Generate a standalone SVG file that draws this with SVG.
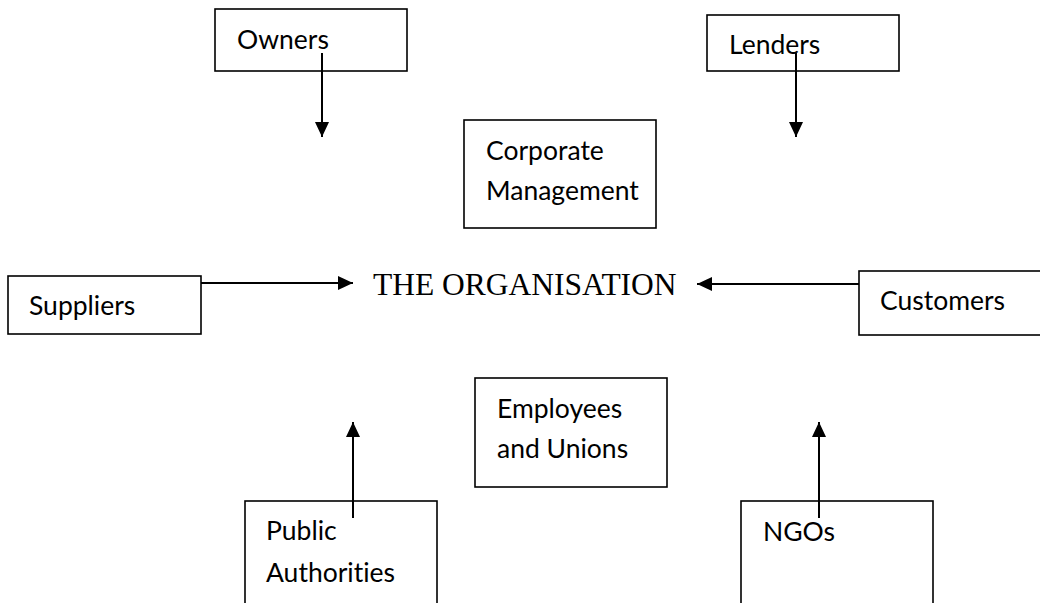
<svg xmlns="http://www.w3.org/2000/svg" width="1040" height="603" viewBox="0 0 1040 603">
<style>
.box{fill:#fff;stroke:#000;stroke-width:1.6}
.lbl{font-family:Lato,"Liberation Sans",sans-serif;font-size:26.5px;fill:#000;font-variant-ligatures:none;font-feature-settings:"liga" 0}
.title{font-family:"Liberation Serif","Times New Roman",serif;font-size:31.5px;fill:#000}
.conn{stroke:#000;stroke-width:2;fill:none;marker-end:url(#ah)}
</style>
<defs>
<marker id="ah" markerUnits="userSpaceOnUse" markerWidth="15" markerHeight="14" refX="15" refY="7" orient="auto">
<path d="M0,0 L15,7 L0,14 Z" fill="#000"/>
</marker>
</defs>
<rect width="1040" height="603" fill="#fff"/>
<g id="owners"><rect class="box" x="215" y="9" width="192" height="62"/><text class="lbl" x="237" y="49">Owners</text></g>
<g id="lenders"><rect class="box" x="707" y="15" width="192" height="56"/><text class="lbl" x="729" y="54">Lenders</text></g>
<g id="corporate"><rect class="box" x="464" y="120" width="192" height="108"/><text class="lbl" x="486" y="160">Corporate</text><text class="lbl" x="486" y="200">Management</text></g>
<g id="suppliers"><rect class="box" x="8" y="276" width="193" height="58"/><text class="lbl" x="29" y="315">Suppliers</text></g>
<g id="organisation"><text class="title" x="373" y="295">THE ORGANISATION</text></g>
<g id="customers"><rect class="box" x="859" y="271" width="190" height="64"/><text class="lbl" x="880" y="310">Customers</text></g>
<g id="employees"><rect class="box" x="475" y="378" width="192" height="109"/><text class="lbl" x="497" y="418">Employees</text><text class="lbl" x="497" y="458">and Unions</text></g>
<g id="public"><rect class="box" x="245" y="501" width="192" height="110"/><text class="lbl" x="266" y="540">Public</text><text class="lbl" x="266" y="582">Authorities</text></g>
<g id="ngos"><rect class="box" x="741" y="501" width="192" height="110"/><text class="lbl" x="763" y="541">NGOs</text></g>
<g id="connectors">
<line class="conn" x1="322" y1="53" x2="322" y2="137"/>
<line class="conn" x1="796" y1="53" x2="796" y2="137"/>
<line class="conn" x1="201" y1="283" x2="353" y2="283"/>
<line class="conn" x1="859" y1="284" x2="697" y2="284"/>
<line class="conn" x1="353" y1="518" x2="353" y2="422"/>
<line class="conn" x1="819" y1="518" x2="819" y2="422"/>
</g>
</svg>
